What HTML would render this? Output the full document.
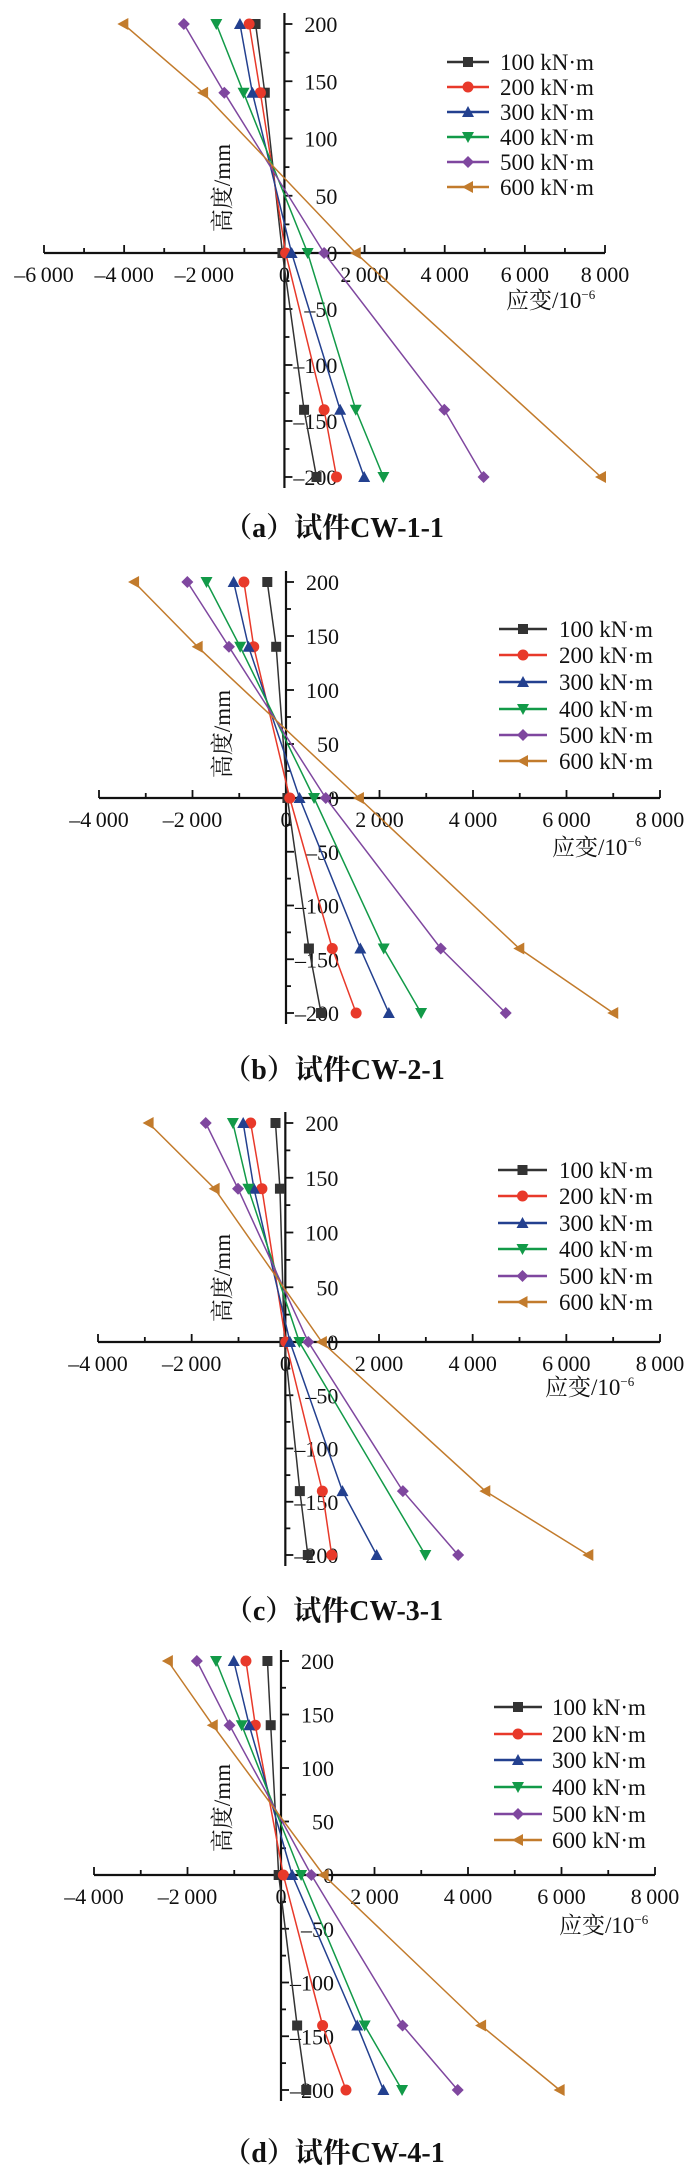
<!DOCTYPE html>
<html><head><meta charset="utf-8">
<style>
html,body{margin:0;padding:0;background:#fff;}
svg{display:block;}
text{font-family:"Liberation Serif","Noto Serif CJK SC",serif;fill:#111;}
</style></head>
<body>
<svg id="fig" width="700" height="2174" viewBox="0 0 700 2174" xmlns="http://www.w3.org/2000/svg"></svg>
<script>
// shared data
const heights = [200, 140, 0, -140, -200];
const seriesNames = ["100 kN\u00b7m","200 kN\u00b7m","300 kN\u00b7m","400 kN\u00b7m","500 kN\u00b7m","600 kN\u00b7m"];
const yTickLabels = [200,150,100,50,0,-50,-100,-150,-200];
// chart a
const strainA100 = [-720,-490,-50,490,800];
const strainA200 = [-880,-600,30,990,1300];
const strainA300 = [-1110,-800,180,1390,1990];
const strainA400 = [-1700,-1020,580,1780,2470];
const strainA500 = [-2510,-1500,990,3990,4970];
const strainA600 = [-4020,-2030,1780,null,7900];
const xTicksA = [-6000,-4000,-2000,0,2000,4000,6000,8000];
// chart b
const strainB100 = [-400,-210,30,490,750];
const strainB200 = [-900,-690,80,990,1500];
const strainB300 = [-1120,-800,290,1590,2200];
const strainB400 = [-1700,-980,600,2090,2890];
const strainB500 = [-2110,-1220,850,3310,4700];
const strainB600 = [-3250,-1890,1560,4990,7000];
const xTicksB = [-4000,-2000,0,2000,4000,6000,8000];
// chart c
const strainC100 = [-210,-115,-20,310,480];
const strainC200 = [-740,-500,10,790,990];
const strainC300 = [-900,-670,100,1220,1950];
const strainC400 = [-1120,-790,300,null,2990];
const strainC500 = [-1700,-1010,490,2510,3690];
const strainC600 = [-2920,-1510,780,4270,6470];
const xTicksC = [-4000,-2000,0,2000,4000,6000,8000];
// chart d
const strainD100 = [-290,-220,-50,345,540];
const strainD200 = [-750,-550,50,890,1390];
const strainD300 = [-1010,-680,240,1630,2190];
const strainD400 = [-1390,-840,430,1790,2590];
const strainD500 = [-1800,-1100,650,2600,3780];
const strainD600 = [-2420,-1460,910,4280,5960];
const xTicksD = [-4000,-2000,0,2000,4000,6000,8000];

const colors = ["#333333","#e8392a","#23408f","#129a48","#7f479f","#c27b2c"];
const markers = ["square","circle","up","down","diamond","left"];
const NS = "http://www.w3.org/2000/svg";
const svg = document.getElementById("fig");

function mk(tag, attrs, parent){
  const e = document.createElementNS(NS, tag);
  for (const k in attrs) e.setAttribute(k, attrs[k]);
  (parent||svg).appendChild(e);
  return e;
}
function fmt(v){
  const s = Math.abs(v).toString();
  let out = s.length>3 ? s.slice(0,s.length-3)+"\u2009"+s.slice(s.length-3) : s;
  return (v<0?"\u2013":"")+out;
}
function marker(g, type, x, y, c){
  let e;
  if (type==="square") e = mk("rect",{x:x-5,y:y-5,width:10,height:10,fill:c},g);
  else if (type==="circle") e = mk("circle",{cx:x,cy:y,r:5.5,fill:c},g);
  else if (type==="up") e = mk("polygon",{points:`${x},${y-6} ${x+6},${y+5} ${x-6},${y+5}`,fill:c},g);
  else if (type==="down") e = mk("polygon",{points:`${x},${y+6} ${x+6},${y-5} ${x-6},${y-5}`,fill:c},g);
  else if (type==="diamond") e = mk("polygon",{points:`${x},${y-6} ${x+6},${y} ${x},${y+6} ${x-6},${y}`,fill:c},g);
  else e = mk("polygon",{points:`${x-6},${y} ${x+5},${y-6} ${x+5},${y+6}`,fill:c},g);
  
  
}

function chart(cfg){
  const g = mk("g",{});
  
  
  const xmin = cfg.xTicks[0], xmax = cfg.xTicks[cfg.xTicks.length-1];
  const sx = v => cfg.x0 + (v - xmin)/(xmax - xmin)*(cfg.x1 - cfg.x0);
  const sy = h => h>=0 ? cfg.y0 + (cfg.yTop - cfg.y0)*h/200 : cfg.y0 + (cfg.yBot - cfg.y0)*(-h)/200;
  const ax = sx(0);
  const xa = mk("line",{x1:cfg.x0,y1:cfg.y0,x2:cfg.x1,y2:cfg.y0,stroke:"#111","stroke-width":2.2},g);
  
  
  for (let v=xmin; v<=xmax; v+=1000){
    const major = (v % 2000 === 0);
    mk("line",{x1:sx(v),y1:cfg.y0,x2:sx(v),y2:cfg.y0-(major?8:5),stroke:"#111","stroke-width":1.8},g);
  }
  cfg.xTicks.forEach(v=>{
    const t = mk("text",{x:sx(v),y:cfg.y0+29,"text-anchor":"middle","font-size":22},g);
    t.textContent = fmt(v);
    
    
  });
  const ya = mk("line",{x1:ax,y1:cfg.yTop-11,x2:ax,y2:cfg.yBot+11,stroke:"#111","stroke-width":2.2},g);
  
  
  for (let h=-200; h<=200; h+=25){
    const major = (h % 50 === 0);
    mk("line",{x1:ax,y1:sy(h),x2:ax+(major?8:5),y2:sy(h),stroke:"#111","stroke-width":1.8},g);
  }
  yTickLabels.forEach(h=>{
    const t = mk("text",{x:ax+53,y:sy(h)+8,"text-anchor":"end","font-size":22},g);
    t.textContent = h<0 ? "\u2013"+(-h) : String(h);
    
    
  });
  const yt = mk("text",{x:0,y:0,"text-anchor":"middle","font-size":23,transform:`translate(${cfg.ytX},${cfg.ytY}) rotate(-90)`},g);
  yt.textContent = "高度/mm";
  
  
  const xt = mk("text",{x:cfg.xtX,y:cfg.xtY,"font-size":23},g);
  
  
  xt.textContent = "应变/10";
  const sup = mk("tspan",{dy:-9,"font-size":13},xt);
  sup.textContent = "\u22126";
  cfg.series.forEach((vals,i)=>{
    const pts = [];
    vals.forEach((v,j)=>{ if (v!==null) pts.push([sx(v), sy(heights[j])]); });
    const pl = mk("polyline",{points:pts.map(p=>p.join(",")).join(" "),fill:"none",stroke:colors[i],"stroke-width":1.5},g);
    
    
    pts.forEach(p=>marker(g, markers[i], p[0], p[1], colors[i]));
  });
  const lg = mk("g",{},g);
  
  
  seriesNames.forEach((n,i)=>{
    const y = cfg.legY[i];
    const e = mk("g",{},lg);
    
    
    mk("line",{x1:cfg.legX1,y1:y,x2:cfg.legX2,y2:y,stroke:colors[i],"stroke-width":2.5},e);
    marker(e, markers[i], (cfg.legX1+cfg.legX2)/2, y, colors[i]);
    const t = mk("text",{x:cfg.legT,y:y+8,"font-size":23},e);
    t.textContent = n;
  });
  const cp = mk("text",{x:334,y:cfg.capY,"text-anchor":"middle","font-size":28,"font-weight":"bold"},g);
  cp.textContent = cfg.caption;
  
  
}

chart({name:"chart-cw-1-1",xTicks:xTicksA,x0:44,x1:605,y0:253,yTop:24,yBot:477,
  series:[strainA100,strainA200,strainA300,strainA400,strainA500,strainA600],
  legX1:447,legX2:489,legT:500,legY:[62,87,112,137,162,187],
  ytX:230,ytY:188,xtX:506,xtY:308,capY:537,caption:"（a）试件CW-1-1"});
chart({name:"chart-cw-2-1",xTicks:xTicksB,x0:99,x1:660,y0:798,yTop:582,yBot:1013,
  series:[strainB100,strainB200,strainB300,strainB400,strainB500,strainB600],
  legX1:499,legX2:547,legT:559,legY:[629,655,682,709,735,761],
  ytX:230,ytY:734,xtX:552,xtY:855,capY:1079,caption:"（b）试件CW-2-1"});
chart({name:"chart-cw-3-1",xTicks:xTicksC,x0:98,x1:660,y0:1342,yTop:1123,yBot:1555,
  series:[strainC100,strainC200,strainC300,strainC400,strainC500,strainC600],
  legX1:498,legX2:547,legT:559,legY:[1170,1196,1223,1249,1276,1302],
  ytX:230,ytY:1278,xtX:545,xtY:1395,capY:1620,caption:"（c）试件CW-3-1"});
chart({name:"chart-cw-4-1",xTicks:xTicksD,x0:94,x1:655,y0:1875,yTop:1661,yBot:2090,
  series:[strainD100,strainD200,strainD300,strainD400,strainD500,strainD600],
  legX1:494,legX2:542,legT:552,legY:[1707,1734,1760,1787,1814,1840],
  ytX:230,ytY:1808,xtX:559,xtY:1933,capY:2162,caption:"（d）试件CW-4-1"});
</script>
</body></html>
